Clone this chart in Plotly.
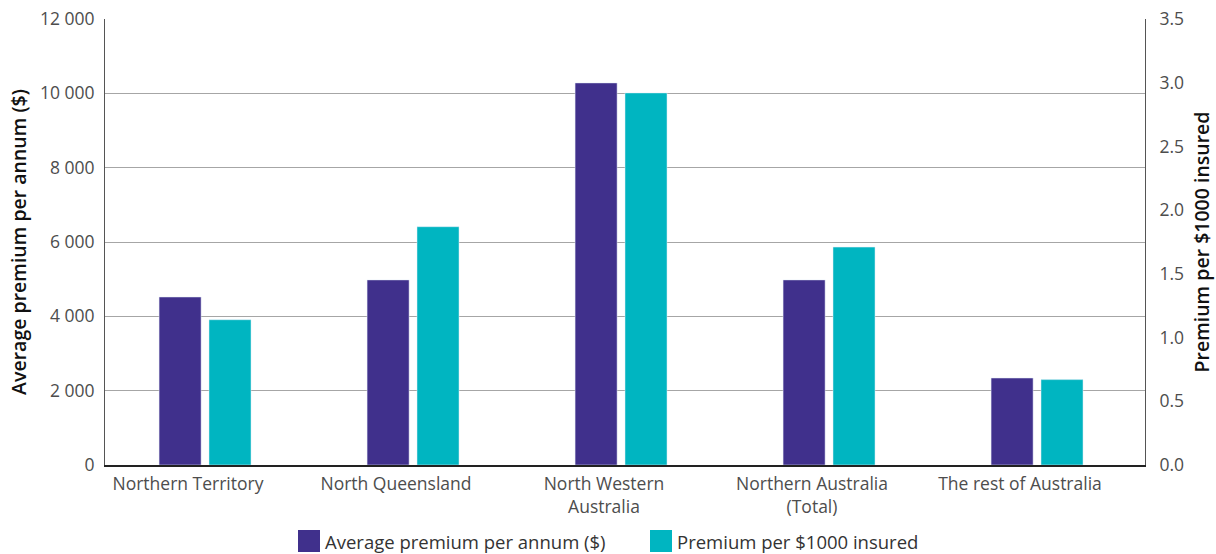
import plotly.graph_objects as go

# Regions compared
regions = ["Northern Territory", "North Queensland", "North Western<br>Australia",
           "Northern Australia<br>(Total)", "The rest of Australia"]
avg_premium = [4520, 4980, 10280, 4980, 2340]          # $ per annum
premium_per_1000 = [1.14, 1.87, 2.92, 1.71, 0.67]       # $ per $1000 insured

left_ticks = [0, 2000, 4000, 6000, 8000, 10000, 12000]
right_ticks = [0.0, 0.5, 1.0, 1.5, 2.0, 2.5, 3.0, 3.5]

series_names = ["Average premium per annum ($)", "Premium per $1000 insured"]
PURPLE = "#40308C"
TEAL = "#00B5C1"
FONT = "Open Sans"
TICK_COLOR = "#4d4d4d"
TICK_SIZE = 17.5

fig = go.Figure()
fig.add_trace(go.Bar(
    x=regions, y=avg_premium, name=series_names[0], marker_color=PURPLE,
    width=0.202, offset=-0.24, yaxis="y", showlegend=False,
))
fig.add_trace(go.Bar(
    x=regions, y=premium_per_1000, name=series_names[1], marker_color=TEAL,
    width=0.202, offset=0.0, yaxis="y2", showlegend=False,
))

# Legend drawn as swatches + labels under the plot area
plot_l, plot_r, plot_t, plot_b = 105, 1145, 19, 465
def px_x(p):
    return (p - plot_l) / (plot_r - plot_l)
def px_y(p):
    return (plot_b - p) / (plot_b - plot_t)

legend_items = [(series_names[0], PURPLE, 298), (series_names[1], TEAL, 650)]
for label, color, x0 in legend_items:
    fig.add_shape(type="rect", xref="paper", yref="paper",
                  x0=px_x(x0), x1=px_x(x0 + 22), y0=px_y(552), y1=px_y(530),
                  fillcolor=color, line_width=0)
    fig.add_annotation(text=label, xref="paper", yref="paper",
                       x=px_x(x0 + 25), y=px_y(541), xanchor="left", yanchor="middle",
                       showarrow=False, font=dict(family=FONT, size=18.5, color="#333333"))

fig.update_layout(
    width=1216, height=554,
    margin=dict(l=plot_l, r=1216 - plot_r, t=plot_t, b=554 - plot_b),
    plot_bgcolor="white", paper_bgcolor="white",
    separators=". ",
    font=dict(family=FONT, size=TICK_SIZE, color=TICK_COLOR),
    barmode="overlay",
    xaxis=dict(
        type="category", showgrid=False, showline=True, linecolor="#222222",
        linewidth=2, ticks="", tickfont=dict(size=TICK_SIZE, color=TICK_COLOR),
        ticklabelshift=-21, ticklabelstandoff=2, automargin=False,
    ),
    yaxis=dict(
        range=[0, 12000], tickvals=left_ticks, tickformat=",",
        tickfont=dict(size=TICK_SIZE, color=TICK_COLOR),
        showgrid=True, gridcolor="#a6a6a6", gridwidth=1,
        showline=True, linecolor="#555555", linewidth=1, zeroline=False,
        ticks="", ticklabelstandoff=6, automargin=False,
        title=dict(text="Average premium per annum ($)",
                   font=dict(family=FONT, size=19.5, color="#111111", weight=600),
                   standoff=8),
    ),
    yaxis2=dict(
        range=[0, 3.5], tickvals=right_ticks, tickformat=".1f",
        tickfont=dict(size=TICK_SIZE, color=TICK_COLOR),
        overlaying="y", side="right", showgrid=False,
        showline=True, linecolor="#555555", linewidth=1, zeroline=False,
        ticks="", ticklabelstandoff=10, automargin=False,
        title=dict(text="Premium per $1000 insured",
                   font=dict(family=FONT, size=19.5, color="#111111", weight=600),
                   standoff=12),
    ),
)

fig.write_html("out.html")
